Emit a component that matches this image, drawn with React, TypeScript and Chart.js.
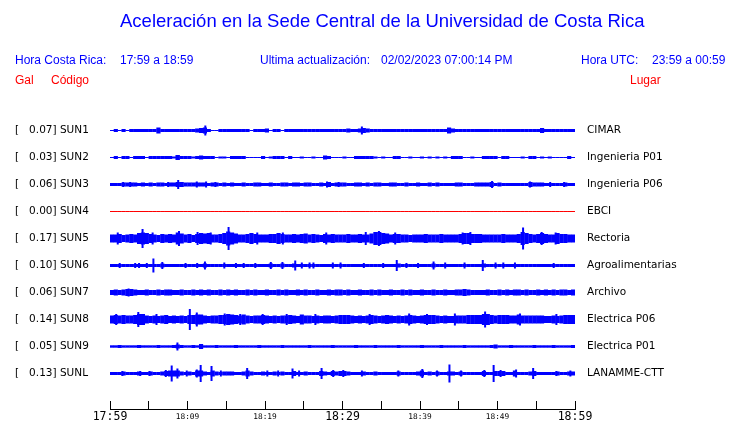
import React, { useEffect, useRef } from "react";
import { Chart, registerables } from "chart.js";

Chart.register(...registerables);

// ---------- text ----------
const chartTitle = "Aceleración en la Sede Central de la Universidad de Costa Rica";
const headerLocalLabel = "Hora Costa Rica:";
const headerLocalRange = "17:59 a 18:59";
const headerUpdateLabel = "Ultima actualización:";
const headerUpdateValue = "02/02/2023 07:00:14 PM";
const headerUtcLabel = "Hora UTC:";
const headerUtcRange = "23:59 a 00:59";
const columnGal = "Gal";
const columnCode = "Código";
const columnPlace = "Lugar";

// ---------- categories ----------
const stationCodes = ["SUN1", "SUN2", "SUN3", "SUN4", "SUN5", "SUN6", "SUN7", "SUN8", "SUN9", "SUNL"];
const galValues = ["0.07", "0.03", "0.06", "0.00", "0.17", "0.10", "0.06", "0.14", "0.05", "0.13"];
const places = [
  "CIMAR",
  "Ingenieria P01",
  "Ingenieria P06",
  "EBCI",
  "Rectoria",
  "Agroalimentarias",
  "Archivo",
  "Electrica P06",
  "Electrica P01",
  "LANAMME-CTT",
];
const traceColors = ["#0000ff", "#0000ff", "#0000ff", "#ff0000", "#0000ff", "#0000ff", "#0000ff", "#0000ff", "#0000ff", "#0000ff"];

// ---------- time axis ----------
const spanMinutes = 60;
const tickStepMinutes = 5;
const xTickLabels = ["17:59", "", "18:09", "", "18:19", "", "18:29", "", "18:39", "", "18:49", "", "18:59"];
const bigTickLabels = ["17:59", "18:29", "18:59"];

// ---------- trace envelopes (half amplitude, 30 s bins) ----------
const sun1 = [
  0.5, 1.5, 0.5, 1.5, 0.5, 1.5, 1.5, 1.5, 1.5, 1.5,
  1.5, 1.5, 3, 1.5, 1.5, 1.5, 1.5, 1.5, 1.5, 1.5,
  1.5, 1.5, 2, 2.5, 3, 1.5, 0.5, 0.5, 1.5, 1.5,
  1.5, 1.5, 1.5, 1.5, 1.5, 1.5, 0.5, 1.5, 1.5, 1.5,
  2, 0.5, 1.5, 1.5, 0.5, 1.5, 1.5, 1.5, 1.5, 1.5,
  1.5, 1.5, 1.5, 1.5, 1.5, 1.5, 1.5, 1.5, 1.5, 1.5,
  1.5, 2, 1.5, 1.5, 2, 2.5, 2, 1.5, 1.5, 1.5,
  1.5, 1.5, 1.5, 1.5, 1.5, 1.5, 1.5, 1.5, 1.5, 1.5,
  1.5, 1.5, 1.5, 1.5, 1.5, 1.5, 1.5, 3, 2, 1.5,
  1.5, 1.5, 1.5, 1.5, 1.5, 1.5, 1.5, 1.5, 1.5, 1.5,
  1.5, 1.5, 1.5, 1.5, 1.5, 1.5, 1.5, 1.5, 1.5, 1.5,
  1.5, 2.5, 1.5, 1.5, 1.5, 1.5, 1.5, 1.5, 1.5, 1.5,
];
const sun2 = [
  0.5, 1.5, 0.5, 1.5, 1.5, 0.5, 1.5, 1.5, 1.5, 0.5,
  1.5, 1.5, 1.5, 1.5, 1.5, 1.5, 1, 2.5, 1.5, 1.5,
  1.5, 1, 1.5, 2, 1.5, 1.5, 1.5, 0.5, 1, 1,
  0.5, 1.5, 1.5, 1.5, 1.5, 0.5, 0.5, 0.5, 0.5, 1.5,
  0.5, 1, 1.5, 1.5, 1.5, 0.5, 1.5, 0.5, 0.5, 1,
  0.5, 0.5, 1, 0.5, 0.5, 2, 1.5, 0.5, 0.5, 0.5,
  1, 0.5, 0.5, 1.5, 1.5, 1.5, 1.5, 1.5, 1, 0.5,
  1, 0.5, 0.5, 1.5, 1.5, 0.5, 0.5, 1, 0.5, 0.5,
  1, 0.5, 1, 0.5, 1, 0.5, 1, 0.5, 1.5, 1.5,
  1.5, 0.5, 0.5, 1, 0.5, 0.5, 1.5, 1.5, 1.5, 1.5,
  0.5, 1.5, 1.5, 0.5, 0.5, 0.5, 1, 0.5, 1.5, 1.5,
  0.5, 1, 0.5, 1, 0.5, 0.5, 0.5, 0.5, 1.5, 0.5,
];
const sun3 = [
  1.5, 1.5, 1.5, 2, 2, 2, 2, 1.5, 2, 1.5,
  2, 1.5, 2, 2, 1.5, 2, 2, 2.5, 2.5, 2,
  2, 2, 2, 2, 2, 1.5, 2, 2, 1.5, 2,
  1.5, 2, 1.5, 1.5, 2, 1.5, 1.5, 2, 2, 1.5,
  1.5, 2, 1.5, 1.5, 2, 2, 1.5, 2, 2, 1.5,
  2, 2, 1.5, 1.5, 2, 1.5, 2.5, 1.5, 2, 2,
  2, 1.5, 1.5, 2, 2, 1.5, 2, 1.5, 2, 2,
  1.5, 1.5, 2, 2, 1.5, 1.5, 2, 1.5, 1.5, 2,
  1.5, 1.5, 2, 1.5, 2, 1.5, 1.5, 1.5, 1.5, 2,
  2, 1.5, 1.5, 1.5, 2, 2, 2, 2, 2.5, 1.5,
  2, 1.5, 1.5, 1.5, 1.5, 1.5, 1.5, 1.5, 2.5, 2,
  2, 2, 1.5, 1.5, 1.5, 1.5, 1.5, 2, 1.5, 1.5,
];
const sun4 = [
  0, 0, 0, 0, 0, 0, 0, 0, 0, 0,
  0, 0, 0, 0, 0, 0, 0, 0, 0, 0,
  0, 0, 0, 0, 0, 0, 0, 0, 0, 0,
  0, 0, 0, 0, 0, 0, 0, 0, 0, 0,
  0, 0, 0, 0, 0, 0, 0, 0, 0, 0,
  0, 0, 0, 0, 0, 0, 0, 0, 0, 0,
  0, 0, 0, 0, 0, 0, 0, 0, 0, 0,
  0, 0, 0, 0, 0, 0, 0, 0, 0, 0,
  0, 0, 0, 0, 0, 0, 0, 0, 0, 0,
  0, 0, 0, 0, 0, 0, 0, 0, 0, 0,
  0, 0, 0, 0, 0, 0, 0, 0, 0, 0,
  0, 0, 0, 0, 0, 0, 0, 0, 0, 0,
];
const sun5 = [
  4, 4, 4.5, 3.5, 4, 4.5, 4, 5.5, 6, 5.5,
  4.5, 4, 3.5, 4.5, 4, 4.5, 4, 6, 5, 4,
  4.5, 3.5, 4.5, 5.5, 5, 5.5, 4, 4, 4.5, 5.5,
  7, 6, 5, 4, 4, 4.5, 5.5, 4.5, 4, 4,
  4, 4.5, 4.5, 5.5, 4.5, 4, 4, 4.5, 4, 4.5,
  5, 4, 4.5, 4, 3.5, 4.5, 4, 4.5, 4, 4,
  4, 4.5, 4, 4, 4.5, 4, 4, 5, 6.5, 6.5,
  5.5, 5, 4, 4.5, 4.5, 4, 4, 3.5, 4, 4,
  4, 4.5, 4, 4, 4, 4.5, 4, 4, 4, 4,
  4.5, 5.5, 5.5, 4.5, 4.5, 4.5, 4, 4, 4, 4,
  4, 4.5, 4, 4, 4, 4.5, 6.5, 5.5, 4.5, 4,
  4.5, 5.5, 4.5, 4, 4, 5.5, 4.5, 4.5, 4, 4,
];
const sun6 = [
  1.5, 1.5, 1.5, 1.5, 1.5, 1.5, 1.5, 1.5, 1.5, 1.5,
  1.5, 1.5, 1.5, 2, 1.5, 1.5, 1.5, 1.5, 1.5, 1.5,
  1.5, 1.5, 1.5, 1.5, 2, 1.5, 1.5, 1.5, 1.5, 1.5,
  1.5, 1.5, 1.5, 1.5, 1.5, 1.5, 1.5, 1.5, 1.5, 1.5,
  1.5, 2, 1.5, 1.5, 2, 1.5, 1.5, 2, 1.5, 1.5,
  1.5, 1.5, 1.5, 1.5, 1.5, 1.5, 1.5, 1.5, 1.5, 1.5,
  1.5, 1.5, 1.5, 1.5, 1.5, 1.5, 1.5, 1.5, 1.5, 1.5,
  1.5, 1.5, 1.5, 1.5, 2, 1.5, 1.5, 1.5, 1.5, 1.5,
  1.5, 1.5, 1.5, 2, 1.5, 1.5, 1.5, 1.5, 1.5, 1.5,
  1.5, 1.5, 1.5, 1.5, 1.5, 1.5, 2, 1.5, 1.5, 1.5,
  1.5, 1.5, 1.5, 1.5, 1.5, 1.5, 1.5, 1.5, 1.5, 1.5,
  1.5, 1.5, 1.5, 1.5, 1.5, 1.5, 1.5, 1.5, 1.5, 1.5,
];
const sun7 = [
  2.5, 3, 2.5, 3, 3.5, 3.5, 3, 2.5, 2.5, 3,
  2.5, 2.5, 3, 2.5, 3, 3, 2.5, 2.5, 3, 2.5,
  2.5, 3, 2.5, 3, 2.5, 3, 2.5, 2.5, 3, 2.5,
  3, 2.5, 3, 2.5, 2.5, 3, 2.5, 3, 2.5, 2.5,
  3, 2.5, 2.5, 3, 2.5, 3, 2.5, 2.5, 3, 2.5,
  3, 2.5, 2.5, 3, 2.5, 2.5, 3, 2.5, 3, 3,
  2.5, 3, 2.5, 2.5, 3, 2.5, 2.5, 3, 2.5, 3,
  2.5, 2.5, 3, 2.5, 2.5, 3, 2.5, 3, 2.5, 2.5,
  3, 2.5, 2.5, 3, 2.5, 2.5, 3, 2.5, 2.5, 3,
  3, 3.5, 3, 2.5, 2.5, 2.5, 2.5, 3, 2.5, 2.5,
  3, 2.5, 3, 2.5, 3, 3, 2.5, 3, 2.5, 2.5,
  3, 2.5, 3, 2.5, 3, 2.5, 3, 3, 2.5, 3,
];
const sun8 = [
  4, 4.5, 4, 4.5, 4, 4, 4.5, 5.5, 5.5, 4,
  3.5, 4, 3.5, 4, 4.5, 3.5, 4, 3.5, 4, 3.5,
  4.5, 4.5, 5, 5, 4, 3.5, 4, 4, 4.5, 4.5,
  5.5, 5, 4.5, 4, 5, 4, 3.5, 4, 4, 4.5,
  4, 3.5, 4, 3.5, 4, 4, 4.5, 4, 3.5, 5,
  4, 4, 3.5, 4, 3.5, 4, 4, 3.5, 4, 4.5,
  4.5, 4.5, 4, 3.5, 4, 3.5, 4, 4.5, 4, 3.5,
  4, 4.5, 4, 3.5, 4, 3.5, 4, 4.5, 4, 3.5,
  4, 4.5, 4.5, 4.5, 4, 3.5, 4, 3.5, 3.5, 4,
  4, 4, 4.5, 4.5, 4.5, 4.5, 5.5, 5.5, 4.5, 4,
  4.5, 4.5, 4.5, 4, 4, 5, 4, 4, 4, 4,
  4, 4, 3.5, 3.5, 4, 3.5, 4, 4.5, 4.5, 4.5,
];
const sun9 = [
  1.2, 1.2, 1.5, 1.2, 1.2, 1.2, 1.2, 1.5, 1.2, 1.2,
  1.2, 1.2, 1.5, 1.2, 1.2, 1.2, 1.5, 2, 1.5, 1.2,
  1.2, 1.5, 1.2, 2.5, 1.2, 1.2, 1.2, 1.5, 1.2, 1.2,
  1.2, 1.2, 1.5, 1.2, 1.2, 1.2, 1.2, 1.2, 1.5, 1.2,
  1.2, 1.2, 1.2, 1.2, 1.5, 1.2, 1.2, 1.2, 1.2, 1.2,
  1.2, 1.5, 1.2, 1.2, 1.2, 1.2, 1.2, 1.5, 1.2, 1.2,
  1.2, 1.2, 1.2, 1.5, 1.2, 1.2, 1.2, 1.2, 1.5, 1.2,
  1.2, 1.2, 1.2, 1.2, 1.5, 1.2, 1.2, 1.2, 1.2, 1.2,
  1.5, 1.2, 1.2, 1.2, 1.2, 1.5, 1.2, 1.2, 1.2, 1.2,
  1.2, 1.5, 1.2, 1.2, 1.2, 1.2, 1.2, 1.2, 1.5, 2,
  1.2, 1.2, 1.2, 1.5, 1.2, 1.2, 1.2, 1.2, 1.2, 1.5,
  1.2, 1.2, 1.2, 1.2, 1.5, 1.2, 1.2, 1.2, 1.2, 1.5,
];
const sunL = [
  1.5, 1.5, 1.5, 2, 1.5, 1.5, 1.5, 2, 1.5, 1.5,
  2, 1.5, 1.5, 2, 2.5, 3, 3, 3, 2, 1.5,
  2, 1.5, 3, 3, 2, 1.5, 3, 2, 1.5, 2,
  2, 2, 1.5, 1.5, 2, 3, 2, 1.5, 1.5, 2,
  1.5, 1.5, 2, 1.5, 2, 1.5, 1.5, 2.5, 1.5, 1.5,
  2, 1.5, 1.5, 1.5, 2.5, 2, 1.5, 2.5, 2, 2.5,
  2.5, 2, 1.5, 1.5, 1.5, 2, 1.5, 1.5, 2, 1.5,
  1.5, 1.5, 1.5, 1.5, 2, 1.5, 1.5, 1.5, 1.5, 2,
  3, 1.5, 2, 1.5, 2, 1.5, 1.5, 2, 2, 1.5,
  2, 1.5, 1.5, 1.5, 1.5, 1.5, 2.5, 1.5, 1.5, 2.5,
  2.5, 2.5, 1.5, 1.5, 3, 1.5, 1.5, 1.5, 2, 2.5,
  1.5, 1.5, 1.5, 1.5, 1.5, 2, 1.5, 1.5, 2, 2,
];

// ---------- isolated peaks: [minute, half amplitude] ----------
const sun1Peaks = [[12.3, 5], [32.5, 4]];
const sun2Peaks = [[8.6, 2.5]];
const sun3Peaks = [
  [1.7, 2.5], [2.6, 2.5], [7.5, 2.5], [8.8, 4.5], [11.2, 3], [12.4, 3], [13.6, 2.5],
  [28.0, 3], [29.5, 2.5], [49.3, 3.5], [54.2, 3], [56.8, 2.5], [58.6, 2.5],
];
const sun4Peaks: number[][] = [];
const sun5Peaks = [
  [1.0, 6], [4.2, 9.5], [5.5, 6], [8.9, 7.5], [11.3, 6.5], [13.0, 6], [15.3, 11.5], [19.0, 6],
  [22.3, 6], [27.9, 6], [33.0, 6.5], [34.7, 7.5], [36.8, 6], [45.5, 6], [46.5, 6.5], [53.3, 11],
  [55.7, 6.5], [57.5, 6],
];
const sun6Peaks = [
  [1.25, 2.5], [3.25, 2.5], [3.75, 2.5], [4.75, 2.5], [5.6, 7], [6.75, 3.5], [9.75, 2.5],
  [11.25, 2.5], [12.25, 4], [14.75, 3], [16.25, 2.5], [17.25, 2.5], [18.75, 2.5], [20.75, 3.5],
  [22.25, 3.5], [23.9, 5], [24.75, 3], [25.75, 3], [26.25, 3], [28.75, 3], [29.75, 3],
  [32.75, 2.5], [35.25, 2.5], [37.0, 5.5], [38.25, 2.5], [39.75, 2.5], [41.75, 4], [43.25, 3],
  [45.75, 3], [48.1, 5.5], [49.75, 3], [50.75, 3], [52.25, 3], [57.25, 2.5],
];
const sun7Peaks = [[2.4, 4]];
const sun8Peaks = [
  [0.8, 5.5], [3.65, 7.5], [6.0, 5.5], [10.3, 10.5], [11.2, 7], [14.8, 6], [16.8, 5.5],
  [19.7, 5.5], [22.8, 5.5], [26.5, 5.5], [33.5, 5.5], [38.6, 6], [40.9, 5.5], [44.5, 6],
  [48.4, 8], [52.9, 6], [57.6, 5.5],
];
const sun9Peaks = [[8.7, 4]];
const sunLPeaks = [
  [1.6, 2.5], [3.9, 2.5], [5.1, 2.5], [7.2, 3.5], [7.96, 8], [8.7, 5], [9.9, 3], [11.2, 4],
  [11.7, 8.5], [13.1, 7.5], [14.3, 3], [17.7, 5.5], [20.3, 3], [21.7, 3], [23.55, 5], [24.4, 3],
  [27.3, 5.5], [28.8, 3.5], [30.1, 3.5], [32.5, 3], [37.2, 3], [40.3, 4.5], [42.2, 3], [43.8, 9],
  [45.3, 3], [48.3, 3.5], [49.5, 8.5], [50.4, 3.5], [52.4, 4], [54.6, 5.5], [57.6, 2.5], [59.4, 3],
];

export default function App() {
  const canvasRef = useRef<HTMLCanvasElement | null>(null);

  useEffect(() => {
    const canvas = canvasRef.current;
    if (!canvas) return;
    const traces = [sun1, sun2, sun3, sun4, sun5, sun6, sun7, sun8, sun9, sunL];
    const peaks = [sun1Peaks, sun2Peaks, sun3Peaks, sun4Peaks, sun5Peaks, sun6Peaks, sun7Peaks, sun8Peaks, sun9Peaks, sunLPeaks];
    const pxPerRow = 27;
    const plotHeight = 306;
    const plotWidth = 465;
    const yMin = -1 - 0.5 / pxPerRow;
    const yMax = yMin + plotHeight / pxPerRow;
    const leftLabels = stationCodes.map((c, i) => `[   ${galValues[i]}] ${c}`);

    const envelopeSets = traces.map((amps, row) => {
      const bin = spanMinutes / amps.length;
      return {
        label: stationCodes[row],
        data: amps.map((a, i) => {
          const h = Math.max(a, 0.5) / pxPerRow;
          return { x: (i + 0.5) * bin, y: [row - h, row + h] };
        }),
        backgroundColor: traceColors[row],
        borderWidth: 0,
        grouped: false,
        barThickness: (plotWidth / amps.length) * 1.08,
        inflateAmount: 0,
        xAxisID: "x",
        yAxisID: "y",
      };
    });
    const peakSets = peaks.map((list, row) => ({
      label: stationCodes[row] + " peaks",
      data: list.map(([m, a]) => ({ x: m, y: [row - a / pxPerRow, row + a / pxPerRow] })),
      backgroundColor: traceColors[row],
      borderWidth: 0,
      grouped: false,
      barThickness: 2,
      inflateAmount: 0,
      xAxisID: "x",
      yAxisID: "y",
    }));

    const labelFont = { family: "'DejaVu Sans', sans-serif", size: 10.5 };
    const noPad = (s: any) => {
      s.paddingTop = 0;
      s.paddingBottom = 0;
    };

    const chart = new Chart(canvas, {
      type: "bar",
      data: { datasets: [...envelopeSets, ...peakSets] as any },
      options: {
        responsive: false,
        maintainAspectRatio: false,
        animation: false,
        devicePixelRatio: 1,
        layout: { padding: { top: 103, left: 15, right: 0, bottom: 0 } },
        plugins: { legend: { display: false }, tooltip: { enabled: false }, title: { display: false } },
        scales: {
          x: {
            type: "linear",
            position: "bottom",
            min: 0,
            max: spanMinutes,
            offset: false,
            grid: {
              display: true,
              drawOnChartArea: false,
              drawTicks: true,
              tickLength: -8,
              color: "#000",
              lineWidth: 1,
              offset: false,
            },
            border: { display: true, color: "#000", width: 1 },
            ticks: {
              stepSize: tickStepMinutes,
              autoSkip: false,
              maxRotation: 0,
              minRotation: 0,
              padding: 10,
              color: "#000",
              callback: (_v: any, i: number) => xTickLabels[i] ?? "",
              font: (ctx: any) =>
                bigTickLabels.includes(xTickLabels[ctx.index])
                  ? { family: "'DejaVu Sans Mono', monospace", size: 11.5, lineHeight: "13px" }
                  : { family: "'DejaVu Sans Mono', monospace", size: 7.8, lineHeight: "11.6px" },
            },
            afterFit: (s: any) => {
              s.height = 14;
            },
          },
          y: {
            type: "linear",
            position: "left",
            min: yMin,
            max: yMax,
            reverse: true,
            grid: { display: false, drawTicks: false },
            border: { display: false },
            afterBuildTicks: (s: any) => {
              s.ticks = stationCodes.map((_c, i) => ({ value: i }));
            },
            ticks: {
              autoSkip: false,
              crossAlign: "far",
              padding: 0,
              color: "#000",
              font: labelFont,
              callback: (_v: any, i: number) => leftLabels[i] ?? "",
            },
            afterFit: (s: any) => {
              s.width = 95;
              noPad(s);
            },
          },
          y2: {
            type: "linear",
            position: "right",
            min: yMin,
            max: yMax,
            reverse: true,
            grid: { display: false, drawTicks: false },
            border: { display: false },
            afterBuildTicks: (s: any) => {
              s.ticks = places.map((_p, i) => ({ value: i }));
            },
            ticks: {
              autoSkip: false,
              crossAlign: "near",
              padding: 12,
              color: "#000",
              font: labelFont,
              callback: (_v: any, i: number) => places[i] ?? "",
            },
            afterFit: (s: any) => {
              s.width = 165;
              noPad(s);
            },
          },
        },
      } as any,
    });

    return () => chart.destroy();
  }, []);

  const text: React.CSSProperties = {
    position: "absolute",
    fontFamily: "'Liberation Sans', Arial, sans-serif",
    fontSize: 12,
    lineHeight: "12px",
    whiteSpace: "pre",
    color: "#0000ff",
  };
  const red: React.CSSProperties = { ...text, color: "#ff0000", top: 74 };
  const blue: React.CSSProperties = { ...text, top: 54 };

  return (
    <div style={{ position: "absolute", left: 0, top: 0, width: 740, height: 423, background: "#fff", overflow: "hidden" }}>
      <canvas ref={canvasRef} width={740} height={423} style={{ position: "absolute", left: 0, top: 0 }} />
      <div style={{ ...text, top: 12, left: 120, fontSize: 18.5, lineHeight: "18px" }}>{chartTitle}</div>
      <div style={{ ...blue, left: 15 }}>{headerLocalLabel}</div>
      <div style={{ ...blue, left: 120 }}>{headerLocalRange}</div>
      <div style={{ ...blue, left: 260 }}>{headerUpdateLabel}</div>
      <div style={{ ...blue, left: 381 }}>{headerUpdateValue}</div>
      <div style={{ ...blue, left: 581 }}>{headerUtcLabel}</div>
      <div style={{ ...blue, left: 652 }}>{headerUtcRange}</div>
      <div style={{ ...red, left: 15 }}>{columnGal}</div>
      <div style={{ ...red, left: 51 }}>{columnCode}</div>
      <div style={{ ...red, left: 630 }}>{columnPlace}</div>
    </div>
  );
}
